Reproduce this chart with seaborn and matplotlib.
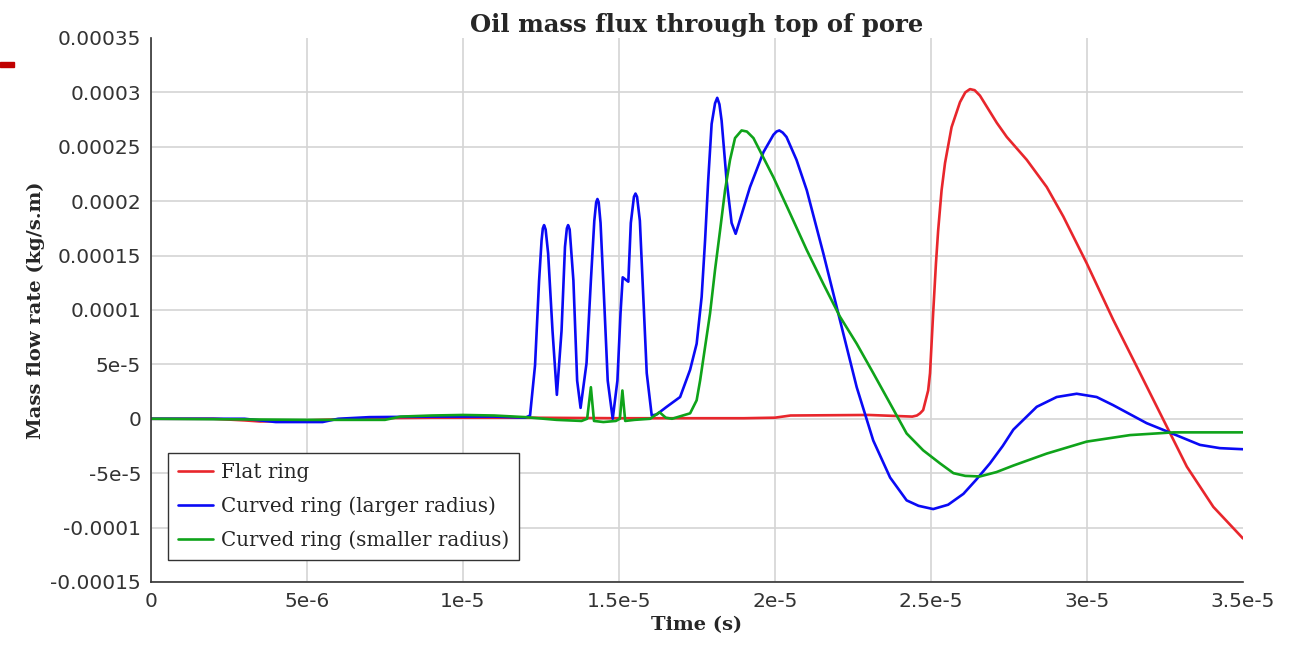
import numpy as np
import matplotlib
matplotlib.use("Agg")
import matplotlib.pyplot as plt
import seaborn as sns
from matplotlib.patches import Rectangle

# values, time in 1e-5 s, flux in 1e-5 kg/s.m
flat_t = [0, 0.2, 0.3, 0.35, 0.45, 0.55, 0.7, 0.9, 1.2, 1.5, 1.9, 2.0, 2.05, 2.3, 2.44,
          2.455, 2.465, 2.475, 2.491, 2.497, 2.507, 2.516, 2.523, 2.534, 2.545, 2.566,
          2.593, 2.61, 2.625, 2.64, 2.657, 2.711, 2.743, 2.807, 2.871, 2.924, 2.999,
          3.084, 3.170, 3.245, 3.320, 3.405, 3.5]
flat_v = [0, 0, -0.15, -0.25, -0.2, -0.1, 0.05, 0.1, 0.1, 0.05, 0.05, 0.1, 0.3, 0.35, 0.2,
          0.3, 0.5, 0.8, 2.6, 4.2, 9.7, 14.3, 17.3, 21.0, 23.5, 26.8,
          29.1, 30.0, 30.3, 30.2, 29.7, 27.2, 25.9, 23.8, 21.3, 18.6, 14.3,
          9.1, 4.2, -0.1, -4.4, -8.1, -11.0]

large_t = [0, 0.3, 0.4, 0.55, 0.6, 0.7, 0.9, 1.1, 1.2, 1.215, 1.231, 1.244, 1.252, 1.256,
           1.26, 1.265, 1.273, 1.287, 1.301, 1.316, 1.327, 1.333, 1.337, 1.342, 1.354,
           1.366, 1.377, 1.396, 1.410, 1.421, 1.427, 1.431, 1.435, 1.441, 1.452, 1.464,
           1.480, 1.495, 1.505, 1.512, 1.530, 1.538, 1.548, 1.553, 1.558, 1.567, 1.578,
           1.589, 1.605, 1.621, 1.653, 1.696, 1.728, 1.749, 1.765, 1.776, 1.786, 1.797,
           1.808, 1.815, 1.822, 1.829, 1.845, 1.861, 1.874, 1.888, 1.920, 1.963, 1.995,
           2.005, 2.014, 2.025, 2.037, 2.069, 2.102, 2.155, 2.208, 2.262, 2.315, 2.369,
           2.422, 2.46, 2.507, 2.555, 2.604, 2.645, 2.689, 2.73, 2.764, 2.839, 2.903,
           2.967, 3.031, 3.084, 3.191, 3.277, 3.362, 3.426, 3.5]
large_v = [0, 0, -0.3, -0.3, 0, 0.15, 0.2, 0.2, 0.1, 0.3, 4.9, 12.7, 16.4, 17.5,
           17.8, 17.4, 15.2, 8.1, 2.2, 8.1, 15.8, 17.5, 17.8, 17.4, 12.7,
           3.5, 1.0, 5.1, 12.7, 18.2, 19.9, 20.2, 19.9, 18.0, 11.2, 3.5,
           0, 3.5, 9.7, 13.0, 12.6, 18.0, 20.4, 20.7, 20.4, 18.2, 11.2,
           4.2, 0.3, 0.4, 1.1, 2.0, 4.5, 6.9, 11.2, 16.4, 21.9, 27.1,
           29.0, 29.5, 28.9, 27.4, 21.9, 18.0, 17.0, 18.3, 21.3, 24.5, 26.1,
           26.4, 26.5, 26.3, 25.9, 23.8, 21.0, 15.2, 9.1, 2.9, -2.0, -5.4,
           -7.5, -8.0, -8.3, -7.9, -6.9, -5.6, -4.1, -2.5, -1.0, 1.1, 2.0,
           2.3, 2.0, 1.25, -0.4, -1.4, -2.4, -2.7, -2.8]

small_t = [0, 0.5, 0.75, 0.8, 0.9, 1.0, 1.1, 1.2, 1.3, 1.38, 1.398, 1.410, 1.42, 1.45,
           1.49, 1.503, 1.511, 1.52, 1.55, 1.60, 1.63, 1.65, 1.67, 1.728, 1.749, 1.760,
           1.776, 1.792, 1.808, 1.824, 1.840, 1.856, 1.872, 1.893, 1.91, 1.931, 1.995,
           2.048, 2.102, 2.155, 2.208, 2.262, 2.315, 2.369, 2.422, 2.475, 2.529, 2.572,
           2.61, 2.657, 2.71, 2.764, 2.871, 2.999, 3.138, 3.277, 3.5]
small_v = [0, -0.1, -0.1, 0.2, 0.3, 0.35, 0.3, 0.15, -0.1, -0.2, 0, 2.9, -0.2, -0.3,
           -0.2, 0, 2.6, -0.2, -0.1, 0, 0.6, 0.1, 0, 0.5, 1.7, 3.5,
           6.6, 9.7, 13.7, 17.3, 21.0, 23.8, 25.8, 26.5, 26.4, 25.8, 22.2,
           18.9, 15.5, 12.4, 9.4, 6.9, 4.2, 1.4, -1.35, -2.9, -4.1, -5.0,
           -5.25, -5.3, -4.9, -4.3, -3.2, -2.1, -1.5, -1.25, -1.25]

series = [
    ("Flat ring", flat_t, flat_v, "#e8262c"),
    ("Curved ring (larger radius)", large_t, large_v, "#0a0af5"),
    ("Curved ring (smaller radius)", small_t, small_v, "#0fa31a"),
]

sns.set_style("white")
plt.rcParams["font.family"] = ["DejaVu Sans"]
serif = ["DejaVu Serif"]

fig = plt.figure(figsize=(12.89, 6.48), dpi=100)
ax = fig.add_axes([0.1171, 0.1019, 0.8472, 0.8395])

for name, t, v, c in series:
    sns.lineplot(x=np.array(t) * 1e-5, y=np.array(v) * 1e-5, ax=ax, color=c,
                 linewidth=1.9, label=name, sort=False)

ax.set_xlim(0, 3.5e-5)
ax.set_ylim(-0.00015, 0.00035)
xt = [0, 5e-6, 1e-5, 1.5e-5, 2e-5, 2.5e-5, 3e-5, 3.5e-5]
xl = ["0", "5e-6", "1e-5", "1.5e-5", "2e-5", "2.5e-5", "3e-5", "3.5e-5"]
yt = [-0.00015, -0.0001, -5e-5, 0, 5e-5, 0.0001, 0.00015, 0.0002, 0.00025, 0.0003, 0.00035]
yl = ["-0.00015", "-0.0001", "-5e-5", "0", "5e-5", "0.0001", "0.00015", "0.0002",
      "0.00025", "0.0003", "0.00035"]
ax.set_xticks(xt)
ax.set_xticklabels(xl, fontsize=14.5, color="#333333")
ax.set_yticks(yt)
ax.set_yticklabels(yl, fontsize=14.5, color="#333333")
ax.tick_params(axis="both", direction="out", length=5, width=1, color="#333333", pad=2)

ax.grid(True, color="#d4d4d4", linewidth=1.2)
ax.set_axisbelow(True)
ax.xaxis.get_gridlines()[-1].set_visible(False)
ax.yaxis.get_gridlines()[-1].set_visible(False)
for s in ["top", "right"]:
    ax.spines[s].set_visible(False)
for s in ["left", "bottom"]:
    ax.spines[s].set_color("#333333")
    ax.spines[s].set_linewidth(1.2)

ax.set_title("Oil mass flux through top of pore", family=serif, fontsize=17.5,
             fontweight="bold", pad=4)
ax.set_xlabel("Time (s)", family=serif, fontsize=14, fontweight="bold", labelpad=4)
ax.set_ylabel("Mass flow rate (kg/s.m)", family=serif, fontsize=14, fontweight="bold",
              labelpad=4)

leg = ax.legend(loc="lower left", bbox_to_anchor=(0.0156, 0.04), borderaxespad=0,
                prop={"family": serif, "size": 14.3}, fancybox=False, framealpha=1,
                edgecolor="#333333", handlelength=1.75, handletextpad=0.4,
                labelspacing=0.72, borderpad=0.5)
leg.get_frame().set_linewidth(1.0)

# small red mark at the top-left edge of the slide
fig.patches.append(Rectangle((0, 1 - 67 / 648), 14 / 1289, 5 / 648,
                             transform=fig.transFigure, color="#c00000"))

fig.savefig("out.png", dpi=100)
